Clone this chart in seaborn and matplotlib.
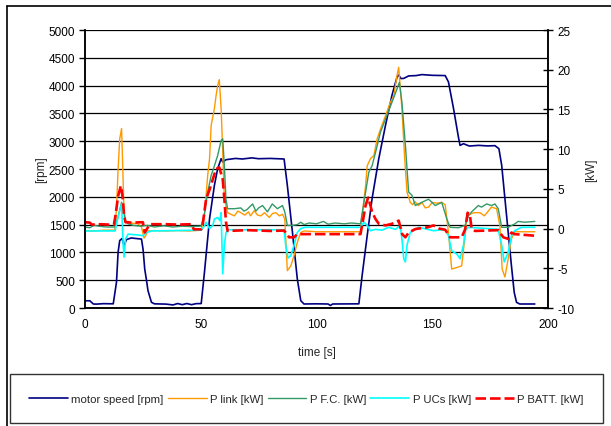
import matplotlib
matplotlib.use("Agg")
import matplotlib.pyplot as plt
from matplotlib.lines import Line2D
import seaborn as sns
import pandas as pd

# ---------------- data ----------------
t_speed = [0, 2.1, 3.6, 5, 8, 12.2, 13.6, 14.3, 15, 16.0, 16.9, 17.9, 20, 22, 24.4, 25.1, 25.8, 26.5,
           27.2, 28.7, 30, 35, 38, 40, 42, 44, 46, 48, 50.2, 51.6, 53.8, 55.9, 57.3, 58.8, 59.5, 60.9,
           65, 68, 72, 75, 80, 86, 87.4, 89.6, 91.7, 93.2, 94.6, 100, 105, 106, 107, 118.3, 119.7,
           121.9, 124, 126.9, 129.8, 132.6, 134.8, 135.5, 136.5, 137.7, 139.8, 143, 145.5, 150,
           155.6, 157, 159.2, 161.3, 162, 163.5, 166, 170, 174, 177.1, 178.8, 180, 181.4, 182.8,
           184.2, 185.4, 186.4, 187.8, 194.3]
speed = [130, 130, 72, 70, 78, 75, 464, 1004, 1213, 1250, 1123, 1230, 1260, 1250, 1240, 1050, 700, 517,
         313, 103, 75, 70, 55, 80, 60, 80, 60, 78, 80, 643, 1604, 2206, 2505, 2685, 2625, 2667,
         2690, 2680, 2700, 2685, 2690, 2680, 2206, 1366, 526, 132, 72, 75, 72, 45, 72, 75, 582,
         1303, 1964, 2685, 3285, 3826, 4156, 4190, 4126, 4130, 4174, 4180, 4198, 4185,
         4180, 4066, 3585, 3074, 2925, 2955, 2913, 2925, 2915, 2920, 2865, 2565, 1964, 1363,
         763, 282, 102, 72, 72]

t_link = [0, 4, 8, 12.9, 13.6, 14.3, 15, 15.8, 16.2, 16.8, 17.5, 18.6, 20, 22.9, 24.4, 25.5, 26.2, 27.2,
          30, 35, 40, 45, 50.2, 51.6, 53, 53.8, 54.5, 55.9, 56.6, 57.3, 58, 58.8, 59.5, 60.2, 61.6,
          63, 64.5, 66, 67.3, 69, 70.6, 71.5, 73.1, 74.5, 76, 77.5, 79.6, 81, 82.4, 84, 85.3, 86.3,
          87.4, 88.9, 90.3, 91.7, 93.2, 94.6, 100, 110, 119, 119.7, 121.2, 121.9, 123.3, 124.8,
          126.2, 127.6, 129.8, 131.9, 133.4, 134.8, 135.5, 136.9, 138.1, 139.1, 140.5, 141.5,
          142.5, 144.1, 145.5, 147, 148.4, 150, 152, 154.1, 155.6, 157, 158.4, 160.6, 162.7,
          164.2, 164.9, 166.3, 168, 170.6, 172.5, 175.6, 177.8, 179.2, 180.2, 181.4, 182.8,
          184.2, 185.6, 194.3]
p_link = [-0.26, -0.3, -0.2, -0.2, 2.5, 7.5, 11.3, 12.6, 8.8, 2.5, 0.8, 0.9, 0.7, 0.6, 0.2, -1.2, -0.9, -0.3,
          -0.25, -0.3, -0.25, -0.3, -0.2, 1.6, 6.7, 8.8, 13.0, 15.1, 16.7, 18.0, 18.75, 15.1, 9.6, 3.7, 2.0,
          1.8, 1.6, 2.2, 2.0, 1.7, 2.1, 1.6, 2.25, 1.7, 1.6, 2.0, 1.4, 1.9, 2.0, 1.6, 1.8, 1.2,
          -5.3, -4.7, -3.4, -1.75, -0.5, -0.3, -0.4, -0.4, -0.4, 1.6, 5.4, 7.9, 8.8, 9.2,
          11.3, 12.5, 14.2, 15.9, 16.7, 19.3, 20.3, 15.1, 8.8, 4.6, 3.3, 3.0,
          3.4, 2.9, 3.3, 2.6, 2.7, 3.3, 3.2, 3.3, 3.0, -0.5, -5.1, -4.9, -4.7,
          -0.9, 1.6, 1.8, 2.0, 2.0, 1.6, 2.7, 2.5, 0.4, -5.1, -6.1, -3.8,
          -1.3, -0.4, -0.4]

t_fc = [0, 2, 4, 6, 9, 12.9, 14.3, 15.8, 16.5, 17.5, 18.6, 21, 24, 27, 30, 34, 38, 42, 46, 50.2, 51.6,
        53, 54.5, 55.9, 57.3, 58.8, 59.5, 60.2, 60.9, 61.6, 64.5, 67.3, 68.7, 70, 72.4, 73.8, 75,
        76.7, 78.8, 80.9, 83.1, 85.3, 86.3, 87.4, 89.6, 91.7, 93.2, 94.6, 96.8, 100, 103, 105, 108,
        112, 115, 119, 120.5, 122.6, 124, 125.5, 127.6, 129.8, 132.6, 134.8, 135.8, 136.9, 138.4,
        139.8, 141.2, 142.7, 145.5, 148.4, 151.3, 154.1, 156.3, 157.7, 161.3, 164.2, 165.6, 167,
        169.9, 171.3, 173.5, 175.6, 177.1, 178.5, 180, 182.8, 185.7, 187.1, 190, 194.3]
p_fc = [0.2, 0.1, 0.4, 0.3, 0.2, 0.2, 1.5, 3.3, 2.5, 1.0, 0.6, 0.4, 0.3, 0.4, 0.2, 0.35, 0.2, 0.3, 0.25, 0.3, 1.9,
        4.6, 6.7, 7.9, 9.2, 11.1, 11.3, 7.9, 3.7, 2.5, 2.5, 2.6, 2.2, 2.4, 3.1, 2.2, 2.6,
        2.9, 2.1, 3.1, 2.5, 2.9, 2.1, 0.4, 0.4, 0.5, 0.8, 0.5, 0.7, 0.6, 0.9, 0.55, 0.7,
        0.6, 0.7, 0.6, 3.3, 7.1, 7.9, 9.6, 12.1, 13.8, 15.9, 17.6, 18.4, 15.9, 10.5,
        4.6, 4.2, 2.9, 3.3, 3.7, 2.9, 3.3, 1.2, 0.16, 0.1, 0.4, 1.6, 2.1,
        2.9, 2.7, 3.1, 2.9, 3.1, 2.5, 0.16, 0.16, 0.6, 0.9, 0.8, 0.9]

t_ucs = [0, 13, 14.3, 15.8, 16.5, 16.9, 17.5, 18.6, 22.9, 25, 26.5, 28.7, 50.2, 51.5, 52.3, 53.8, 55.2,
         55.9, 57.3, 58.3, 58.8, 59.5, 60.2, 60.9, 62, 86, 86.7, 87.7, 88.9, 90.3, 91.7, 93.2, 95,
         119, 120.5, 121.9, 123.3, 125.5, 128.3, 131.2, 134.1, 136.2, 136.9, 137.7, 138.4, 139.1,
         140.5, 144.1, 150.6, 155.6, 157, 158.4, 160.6, 162, 163.5, 164.2, 165.6, 178.5, 180,
         181.1, 182.8, 184.2, 185.6, 188.5, 194.3]
p_ucs = [-0.3, -0.3, 1.5, 3.1, -2.1, -3.6, -1.3, -0.7, -0.8, -0.9, -0.5, -0.3, -0.2, 0.3, 0.8, 0.0, 0.4,
         1.2, 1.4, 1.0, 2.0, -5.7, -2.1, -0.5, -0.15, -0.15, -2.1, -3.7, -3.4, -2.1, -0.5, 0.0, 0.16,
         0.16, 0.8, 0.4, -0.27, -0.1, -0.2, 0.16, -0.1, 0.4, -1.3, -3.8, -4.2, -2.1,
         -0.5, 0.16, -0.27, -0.1, -0.9, -2.8, -3.2, -3.8, -2.1, -0.27, 0.16, -0.1, -2.1,
         -4.2, -3.0, -0.9, -0.27, 0.16, 0.16]

t_batt = [0, 2, 3, 7, 10, 12.5, 13.2, 14.3, 15.5, 16.2, 16.9, 17.5, 20, 25, 25.8, 28, 35, 40, 46, 47,
          50.2, 50.9, 52.3, 53.8, 55.2, 56.6, 58, 59.5, 60.2, 60.9, 61.6, 70, 80, 86, 88.2, 90.3,
          91.7, 100, 110, 119, 119.7, 121.2, 122.3, 123.3, 124, 125.5, 126.9, 129.8, 132.6, 134.1,
          135.5, 137, 138.4, 139.8, 142.7, 148, 150.6, 153, 155.6, 157.7, 162.7, 164.2, 165.3,
          166.3, 167, 168.5, 178.5, 180.7, 182.8, 184.2, 185.6, 194.3]
p_batt = [0.8, 0.75, 0.5, 0.55, 0.5, 0.5, 1.7, 4.1, 5.4, 4.1, 1.6, 0.8, 0.75, 0.8, -0.5, 0.55, 0.55, 0.5, 0.55, -0.1,
          -0.1, 0.6, 3.7, 4.9, 6.2, 7.5, 7.7, 6.2, 3.7, 0.8, -0.3, -0.2, -0.3, -0.25, -1.1, -1.1,
          -0.7, -0.7, -0.7, -0.7, 0.4, 2.9, 3.9, 2.9, 2.1, 1.2, 0.6, 0.4, 0.6, 0.8,
          1.0, -0.7, -1.1, -0.5, -0.06, 0.16, 0.4, 0.0, -0.15, -1.1, -1.1, -0.1, 2.0,
          1.6, 0.0, -0.3, -0.2, -1.1, -1.3, -0.5, -0.7, -0.9]

x_ticks = [0, 50, 100, 150, 200]
rpm_ticks = list(range(0, 5001, 500))
kw_ticks = list(range(-10, 26, 5))

labels = ["motor speed [rpm]", "P link [kW]", "P F.C. [kW]", "P UCs [kW]", "P BATT. [kW]"]
colors = ["#000080", "#FF9900", "#339966", "#00FFFF", "#FF0000"]

# ---------------- style ----------------
sns.set_style("white")
plt.rcParams["font.family"] = ["Liberation Sans", "DejaVu Sans"]
plt.rcParams["font.size"] = 8.5

fig = plt.figure(figsize=(6.11, 4.27), dpi=100)
W, H = 611, 427
ax = fig.add_axes([85 / W, 1 - 309 / H, (548 - 85) / W, (309 - 31) / H])
ax2 = ax.twinx()

df_speed = pd.DataFrame({"t": t_speed, "v": speed})
df_link = pd.DataFrame({"t": t_link, "v": p_link})
df_fc = pd.DataFrame({"t": t_fc, "v": p_fc})
df_ucs = pd.DataFrame({"t": t_ucs, "v": p_ucs})
df_batt = pd.DataFrame({"t": t_batt, "v": p_batt})

sns.lineplot(data=df_speed, x="t", y="v", ax=ax, color=colors[0], lw=1.2,
             estimator=None, sort=False, legend=False)
sns.lineplot(data=df_link, x="t", y="v", ax=ax2, color=colors[1], lw=1.0,
             estimator=None, sort=False, legend=False)
sns.lineplot(data=df_fc, x="t", y="v", ax=ax2, color=colors[2], lw=1.0,
             estimator=None, sort=False, legend=False)
sns.lineplot(data=df_ucs, x="t", y="v", ax=ax2, color=colors[3], lw=1.2,
             estimator=None, sort=False, legend=False)
sns.lineplot(data=df_batt, x="t", y="v", ax=ax2, color=colors[4], lw=1.9,
             estimator=None, sort=False, legend=False, linestyle=(0, (4, 1.5)))

ax.set_xlim(0, 200)
ax.set_ylim(0, 5000)
ax2.set_ylim(-10, 25)
ax.set_xticks(x_ticks)
ax.set_yticks(rpm_ticks)
ax2.set_yticks(kw_ticks)
ax.set_yticklabels([str(v) for v in rpm_ticks])
ax2.set_yticklabels([str(v) for v in kw_ticks])

ax.yaxis.grid(True, color="black", lw=0.9)
ax.set_axisbelow(True)
for a in (ax, ax2):
    a.spines["top"].set_visible(False)
    for s in ("left", "right", "bottom"):
        a.spines[s].set_color("black")
        a.spines[s].set_linewidth(1.1)
ax.tick_params(axis="both", direction="out", length=4, width=1, colors="black",
               labelsize=8.5, pad=3)
ax2.tick_params(axis="y", direction="inout", length=7, width=1, colors="black",
                labelsize=8.5, pad=3)

ax.set_xlabel("time [s]", fontsize=8.5, labelpad=12)
ax.set_ylabel("[rpm]", fontsize=8.5, labelpad=1)
ax2.set_ylabel("[kW]", fontsize=8.5, labelpad=8)

# outer chart frame
fig.add_artist(Line2D([7 / W, 7 / W], [0, 1 - 7 / H], transform=fig.transFigure,
                      color="black", lw=1.2))
fig.add_artist(Line2D([7 / W, 1], [1 - 7 / H, 1 - 7 / H], transform=fig.transFigure,
                      color="black", lw=1.2))

handles = [Line2D([], [], color=colors[0], lw=1.2),
           Line2D([], [], color=colors[1], lw=1.0),
           Line2D([], [], color=colors[2], lw=1.0),
           Line2D([], [], color=colors[3], lw=1.2),
           Line2D([], [], color=colors[4], lw=1.9, linestyle=(0, (4, 1.5)))]
leg = fig.legend(handles, labels, loc="lower left", ncol=5, mode="expand",
                 bbox_to_anchor=(10 / W, 1 - 424 / H, 593 / W, 47 / H),
                 frameon=True, fancybox=False, edgecolor="black",
                 handlelength=3.4, handletextpad=0.3, columnspacing=0.4,
                 borderpad=1.7, borderaxespad=0, fontsize=8.2)
leg.get_frame().set_linewidth(1.0)

fig.savefig("out.png", dpi=100)
